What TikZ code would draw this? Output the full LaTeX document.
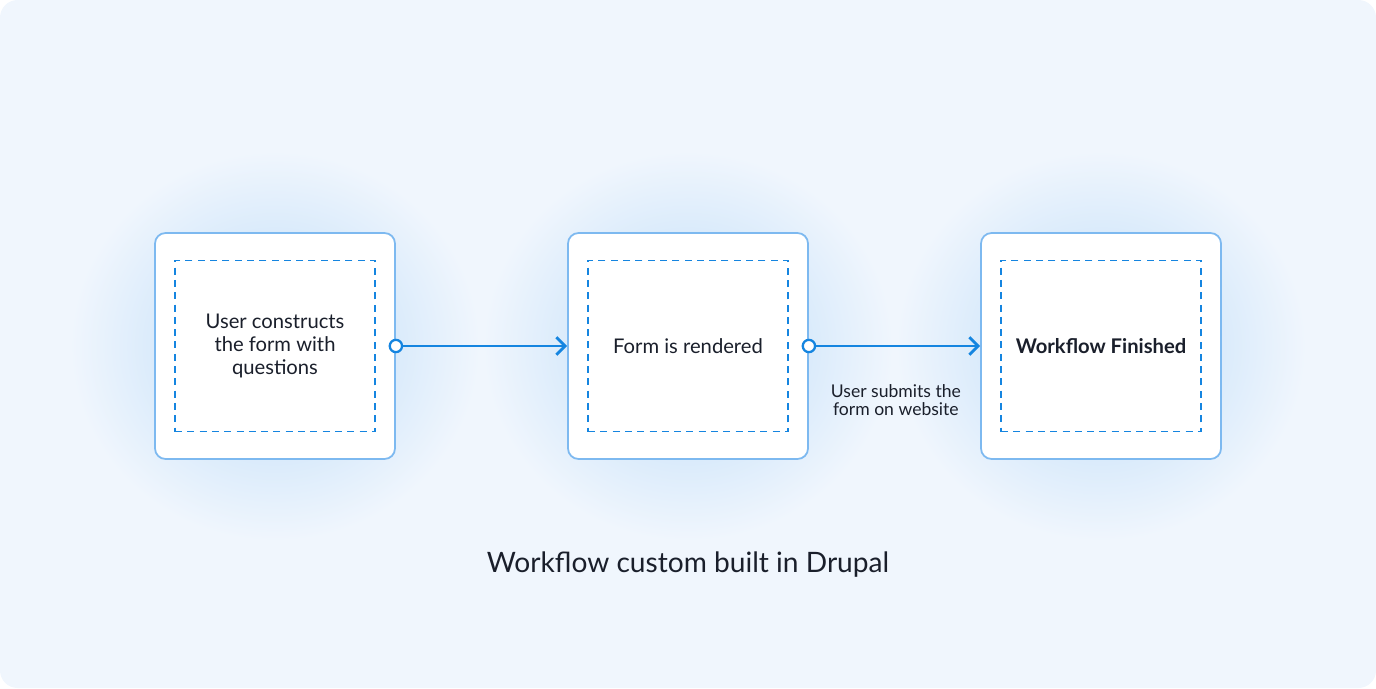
\documentclass[tikz,border=0pt]{standalone}
\usepackage{fontspec}
\setmainfont{Lato}
\usetikzlibrary{positioning,arrows.meta}
\definecolor{bgc}{HTML}{F0F6FD}
\definecolor{glow}{HTML}{BBDBF8}
\definecolor{edge}{HTML}{7DB9F0}
\definecolor{flow}{HTML}{1585E0}
\definecolor{ink}{HTML}{1A1F2B}
\tikzset{
    BOX/.style ={rectangle,rounded corners=6pt,minimum width=4.8cm,minimum height=4.52cm,draw=edge,line width=1pt,fill=white},
    DSH/.style ={rectangle,minimum width=4cm,minimum height=3.42cm,draw=flow,line width=0.8pt,dash pattern=on 4pt off 3pt,align=center,font=\fontsize{11.5}{13}\selectfont,text=ink},
    LNK/.style ={-{Straight Barb[length=5pt,width=10pt]},flow,line width=1.6pt},
    DOT/.style ={circle,draw=flow,line width=1.3pt,fill=white,inner sep=0pt,minimum size=7pt}}
\begin{document}
\begin{tikzpicture}
    \fill[bgc,rounded corners=10pt] (0,0) rectangle (27.52,13.76);
    \useasboundingbox (0,0) rectangle (27.52,13.76);
    % glow behind the boxes
    \foreach \x in {5.5,13.76,22.02}
        \shade[inner color=glow,outer color=bgc] (\x,6.84) ellipse (4.1cm and 3.9cm);
    \node[BOX] (s1) at (5.5,6.84){};
    \node[BOX] (s2) at (13.76,6.84){};
    \node[BOX] (s3) at (22.02,6.84){};
    \node[DSH] (i1) at (s1){User constructs\\the form with\\questions};
    \node[DSH] (i2) at (s2){Form is rendered};
    \node[DSH,font=\fontsize{11.5}{13}\selectfont\bfseries] (i3) at (s3){Workflow Finished};
    \node[DOT] (d1) at (s1.east){};
    \node[DOT] (d2) at (s2.east){};
    \draw[LNK] (d1) -- (s2.west);
    \draw[LNK] (d2) -- (s3.west);
    \node[align=center,font=\fontsize{10}{10.5}\selectfont,text=ink,below=0.5cm of d2,xshift=1.74cm] (lab){User submits the\\form on website};
    \node[font=\fontsize{16}{18}\selectfont,text=ink] (title) at (13.76,2.46){Workflow custom built in Drupal};
\end{tikzpicture}
\end{document}
